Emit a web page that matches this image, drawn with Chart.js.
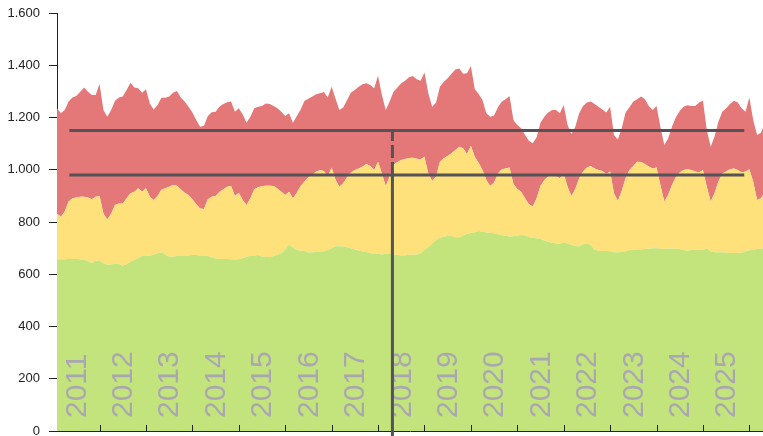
<!DOCTYPE html>
<html>
<head>
<meta charset="utf-8">
<script src="https://cdn.jsdelivr.net/npm/chart.js@4/dist/chart.umd.min.js"></script>
<style>
  html, body { margin: 0; padding: 0; background: #ffffff; }
  #wrap { width: 763px; height: 436px; position: relative; }
</style>
</head>
<body>
<div id="wrap"><canvas id="c"></canvas></div>
<script>
// ---- categories: monthly, first point Feb 2011 ----
const startYear = 2011;
const startMonth = 2; // February
const yearLabels = ['2011','2012','2013','2014','2015','2016','2017','2018','2019','2020','2021','2022','2023','2024','2025'];
const yearTicks = [2012,2013,2014,2015,2016,2017,2018,2019,2020,2021,2022,2023,2024,2025,2026];
const yTicks = [0,200,400,600,800,1000,1200,1400,1600];

// ---- levels reached by each band ----
const greenLevel = [
655,657,657,658,658,658,657,655,652,642,652,652,642,635,638,639,639,633,638,648,655,661,670,670,671,676,680,684,676,667,667,
670,671,671,672,674,674,672,672,670,664,660,658,658,658,657,656,657,661,667,671,671,674,
667,667,665,670,675,680,695,713,702,693,690,689,683,684,685,685,688,693,699,707,707,706,703,700,695,690,688,685,680,679,678,676,678,680,676,674,672,672,675,675,676,680,693,703,718,731,739,744,746,746,741,741,748,755,758,760,766,763,760,759,757,753,749,748,
744,745,748,750,748,743,739,738,735,729,724,721,718,717,722,718,712,708,706,715,717,712,694,690,689,689,688,684,684,685,688,693,694,695,695,697,698,700,700,699,697,698,699,698,697,693,690,693,693,694,695,698,688,684,684,684,683,681,681,681,683,686,692,694,697,698,700
];
const yellowLevel = [
833,820,840,878,891,894,897,897,894,887,897,900,833,810,833,865,871,871,891,910,916,929,916,929,897,884,900,923,929,935,942,
939,925,912,903,887,868,852,850,887,897,900,915,925,935,938,900,912,884,865,891,925,933,938,939,939,938,928,916,903,916,
891,912,938,955,971,980,993,998,995,974,1009,963,935,948,971,989,999,1005,1012,1022,1014,999,1031,986,938,974,1018,1030,1037,1041,1045,
1046,1042,1040,1050,986,957,974,1031,1044,1053,1063,1076,1088,1082,1060,1092,1050,1027,999,961,938,951,986,1002,1005,1009,945,926,916,891,
868,859,891,938,961,974,979,976,967,986,935,900,926,967,993,1009,1014,1005,999,995,984,993,910,880,919,967,999,1014,1031,1030,1022,
1012,1005,1009,942,878,903,942,971,989,999,1002,999,993,989,999,935,878,910,955,986,993,1002,1005,999,989,993,1002,954,884,891,916
];
const redLevel = [
1235,1216,1229,1261,1277,1282,1299,1315,1299,1286,1286,1328,1229,1203,1229,1264,1277,1280,1305,1333,1315,1312,1295,1308,1254,1231,1248,1276,1276,1280,1295,
1301,1277,1261,1241,1219,1190,1165,1168,1206,1220,1222,1241,1252,1258,1261,1222,1235,1212,1180,1203,1235,1241,1244,1254,1252,1244,1235,1222,1206,1216,
1180,1206,1231,1264,1272,1280,1289,1293,1298,1277,1318,1273,1229,1238,1267,1296,1305,1318,1327,1331,1324,1312,1360,1286,1229,1261,1299,1315,1331,1341,1354,
1359,1346,1341,1372,1293,1241,1257,1318,1337,1350,1367,1384,1388,1367,1369,1397,1309,1290,1267,1216,1203,1208,1239,1261,1270,1282,1190,1171,1159,1133,
1111,1101,1124,1180,1203,1219,1229,1229,1216,1248,1171,1137,1165,1216,1244,1257,1261,1252,1241,1231,1219,1241,1133,1116,1159,1219,1239,1261,1270,1280,1270,
1244,1229,1244,1165,1095,1120,1165,1201,1225,1241,1247,1244,1244,1257,1265,1152,1088,1127,1184,1222,1235,1252,1264,1257,1235,1222,1277,1190,1133,1142,1178
];

// ---- reference markers ----
const upperThreshold = 1150;
const lowerThreshold = 980;
const thresholdFrom = 2011.35;
const thresholdTo = 2025.89;
const markerDate = 2018.31;

// month positions as decimal years
const monthPos = greenLevel.map((_, i) => startYear + (startMonth - 1 + i) / 12);
const pts = arr => arr.map((v, i) => ({ x: monthPos[i], y: v }));

const fmt = v => String(v).replace(/\B(?=(\d{3})+(?!\d))/g, '.');
const FONT = "'Liberation Sans', Arial, Helvetica, sans-serif";
const LINE_COL = '#545359';
const AXIS_COL = '#222222';

const overlay = {
  id: 'overlay',
  afterDatasetsDraw(chart) {
    const { ctx, chartArea, scales: { x, y } } = chart;
    ctx.save();
    // rotated year labels inside plot
    ctx.fillStyle = '#aaa7b2';
    ctx.font = '30px ' + FONT;
    ctx.textAlign = 'left';
    ctx.textBaseline = 'middle';
    yearLabels.forEach(lbl => {
      const px = x.getPixelForValue(parseInt(lbl, 10) + 0.5);
      ctx.save();
      ctx.translate(px + 1, chartArea.bottom - 13);
      ctx.rotate(-Math.PI / 2);
      ctx.fillText(lbl, 0, 0);
      ctx.restore();
    });
    // threshold lines
    ctx.strokeStyle = LINE_COL;
    ctx.lineWidth = 3;
    ctx.lineCap = 'butt';
    [upperThreshold, lowerThreshold].forEach(v => {
      const py = y.getPixelForValue(v);
      ctx.beginPath();
      ctx.moveTo(x.getPixelForValue(thresholdFrom), py);
      ctx.lineTo(x.getPixelForValue(thresholdTo), py);
      ctx.stroke();
    });
    // vertical marker
    const vx = x.getPixelForValue(markerDate);
    ctx.setLineDash([12, 4, 13, 4, 1000, 0]);
    ctx.beginPath();
    ctx.moveTo(vx, y.getPixelForValue(upperThreshold) - 1.5);
    ctx.lineTo(vx, chart.height);
    ctx.stroke();
    ctx.setLineDash([]);
    // x-axis ticks pointing inward
    ctx.strokeStyle = AXIS_COL;
    ctx.lineWidth = 1;
    yearTicks.forEach(t => {
      const px = Math.round(x.getPixelForValue(t)) + 0.5;
      ctx.beginPath();
      ctx.moveTo(px, chartArea.bottom);
      ctx.lineTo(px, chartArea.bottom - 6);
      ctx.stroke();
    });
    ctx.restore();
  }
};

Chart.defaults.font.family = FONT;

new Chart(document.getElementById('c'), {
  type: 'line',
  data: {
    datasets: [
      { label: 'green', data: pts(greenLevel), backgroundColor: '#c3e37c', borderWidth: 0, pointRadius: 0, fill: 'origin', tension: 0 },
      { label: 'yellow', data: pts(yellowLevel), backgroundColor: '#fee17a', borderWidth: 0, pointRadius: 0, fill: '-1', tension: 0 },
      { label: 'red', data: pts(redLevel), backgroundColor: '#e47777', borderWidth: 0, pointRadius: 0, fill: '-1', tension: 0 }
    ]
  },
  options: {
    responsive: true,
    maintainAspectRatio: false,
    devicePixelRatio: 1,
    animation: false,
    layout: { padding: { top: 13, right: 0, bottom: 5, left: 0 } },
    plugins: { legend: { display: false }, tooltip: { enabled: false } },
    scales: {
      x: {
        type: 'linear',
        min: startYear + (startMonth - 1) / 12,
        max: 2026.294,
        grid: { display: false, drawTicks: false, tickLength: 0 },
        border: { display: true, color: AXIS_COL, width: 1 },
        ticks: { display: false, padding: 0 },
        afterBuildTicks: s => { s.ticks = yearTicks.map(v => ({ value: v })); },
        afterFit: s => { s.height = 0; s.paddingLeft = 0; s.paddingRight = 0; s.paddingTop = 0; s.paddingBottom = 0; }
      },
      y: {
        min: 0,
        max: 1600,
        afterBuildTicks: s => { s.ticks = yTicks.map(v => ({ value: v })); },
        grid: { display: true, drawOnChartArea: false, drawTicks: true, tickLength: 8, color: AXIS_COL, lineWidth: 1 },
        border: { display: true, color: AXIS_COL, width: 1 },
        ticks: { color: '#222222', font: { size: 13 }, padding: 9, callback: v => fmt(v) },
        afterFit: s => { s.width = 57; s.paddingTop = 0; s.paddingBottom = 0; }
      }
    }
  },
  plugins: [overlay]
});
</script>
</body>
</html>
